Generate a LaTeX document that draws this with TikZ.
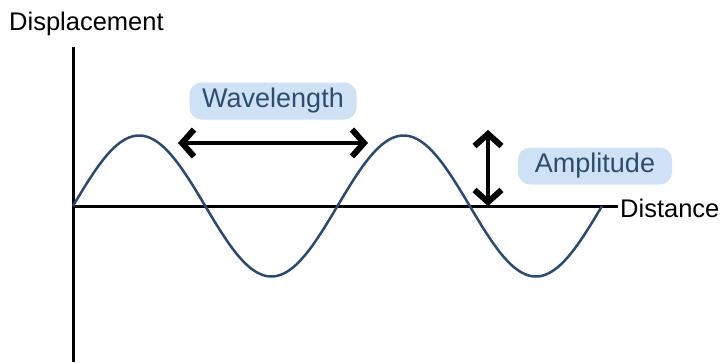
\documentclass[tikz,border=0pt]{standalone}
\usepackage{fontspec}
\setmainfont{Liberation Sans}
\usetikzlibrary{arrows.meta}
\definecolor{wavecol}{HTML}{2B4A72}
\definecolor{lbltext}{HTML}{2E4C6D}
\definecolor{lblfill}{HTML}{CFE2F5}
\begin{document}
\begin{tikzpicture}[x=1pt,y=-1pt,
  axis/.style={line width=3pt,black},
  wavepath/.style={line width=2.5pt,wavecol},
  barb/.tip={Straight Barb[length=12pt,width=27pt,line width=6pt]},
  dimarrow/.style={line width=4pt,black,barb-barb},
  lbl/.style={fill=lblfill,text=lbltext,rounded corners=12pt,minimum height=37pt,inner sep=0pt,font=\fontsize{27}{31}\selectfont},
  axlbl/.style={inner sep=0pt,font=\fontsize{25.5}{29}\selectfont,text=black}]
\useasboundingbox (0,0) rectangle (723,362);
% axes
\coordinate (ytop) at (73,47);
\coordinate (ybot) at (73,362);
\coordinate (xorig) at (73,206);
\coordinate (xend) at (618,206);
\draw[axis] (ytop) -- (ybot);
\draw[axis] (xorig) -- (xend);
\node[axlbl,anchor=west] (disp) at (9,24) {Displacement};
\node[axlbl,anchor=west] (dist) at (620,208) {Distance};
% wave
\draw[wavepath] plot[domain=73:602,samples=200,smooth] (\x,{206-70.5*sin((\x-73)/264.5*360)});
% wavelength
\node[lbl,minimum width=167pt] (wl) at (273,101) {Wavelength};
\coordinate (wlA) at (178,143);
\coordinate (wlB) at (368,143);
\draw[dimarrow] (wlA) -- (wlB);
% amplitude
\node[lbl,minimum width=154pt] (amp) at (595,166) {Amplitude};
\coordinate (ampA) at (488,130);
\coordinate (ampB) at (488,206);
\draw[dimarrow] (ampA) -- (ampB);
\end{tikzpicture}
\end{document}
